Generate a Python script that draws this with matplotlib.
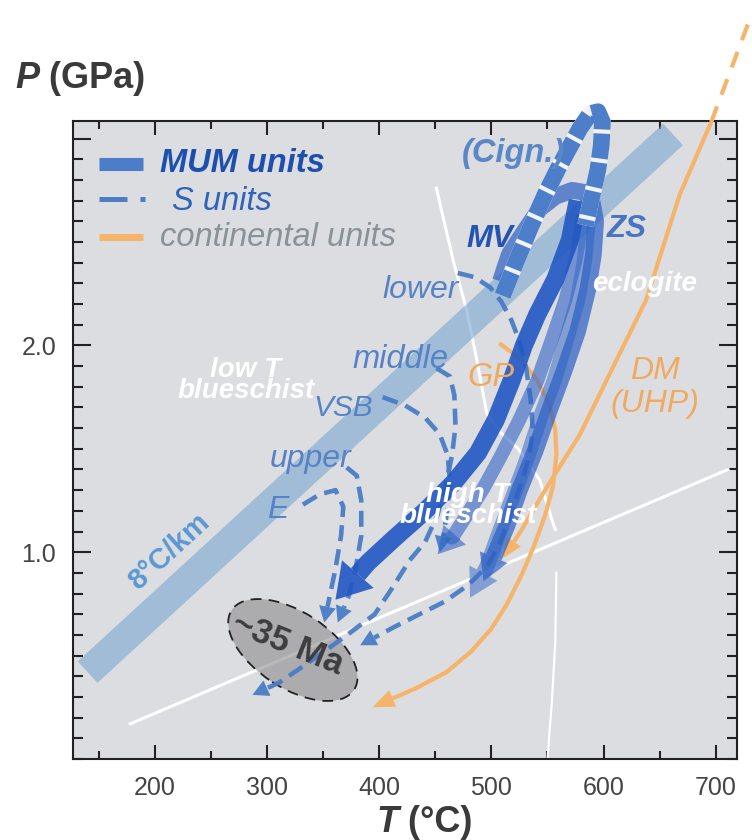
import numpy as np
import matplotlib
matplotlib.use("Agg")
import matplotlib.pyplot as plt
from matplotlib.patches import Polygon, Ellipse
from matplotlib import transforms
from matplotlib.ticker import MultipleLocator, FixedLocator, FixedFormatter

# ---- P-T paths (T in degC, P in GPa) ----
# MUM units (thick)
mum_main_T = [577, 570, 557, 541, 529, 518, 504, 488, 467, 441, 414, 390, 361]
mum_main_P = [2.70, 2.51, 2.32, 2.15, 2.00, 1.83, 1.64, 1.48, 1.34, 1.20, 1.07, 0.95, 0.77]
mum_b_T = [582, 575, 566, 554, 541, 525, 509, 493, 477, 465, 452]
mum_b_P = [2.63, 2.41, 2.22, 2.03, 1.83, 1.64, 1.47, 1.31, 1.17, 1.07, 0.99]
zs_T = [586, 583, 577, 567, 556, 543, 531, 518, 506, 496, 481]
zs_P = [2.58, 2.41, 2.22, 2.03, 1.83, 1.64, 1.44, 1.25, 1.08, 0.93, 0.78]
mv_T = [508, 516, 528, 543, 557, 572, 583, 590, 593, 591, 586, 577, 565, 552, 539, 525, 514, 504, 493]
mv_P = [2.31, 2.44, 2.54, 2.66, 2.72, 2.75, 2.74, 2.69, 2.60, 2.44, 2.27, 2.07, 1.88, 1.69, 1.49, 1.30, 1.13, 1.00, 0.86]
cign_T = [510, 521, 534, 548, 559, 570, 579, 588, 595, 599, 598, 595, 590, 584]
cign_P = [2.24, 2.39, 2.56, 2.73, 2.85, 2.96, 3.05, 3.12, 3.13, 3.08, 2.97, 2.85, 2.73, 2.58]

# S units (dashed)
s_lower_T = [470, 485, 499, 509, 518, 525, 531, 535, 537, 534, 527, 519, 508, 496, 479, 458, 436, 414, 383]
s_lower_P = [2.35, 2.33, 2.28, 2.21, 2.12, 2.02, 1.89, 1.74, 1.59, 1.47, 1.34, 1.21, 1.05, 0.93, 0.84, 0.76, 0.70, 0.64, 0.55]
s_middle_T = [451, 463, 467, 468, 465, 459, 452, 441, 427, 412, 396, 369, 338, 311, 287]
s_middle_P = [1.89, 1.85, 1.76, 1.61, 1.47, 1.32, 1.18, 1.05, 0.96, 0.83, 0.70, 0.59, 0.47, 0.37, 0.31]
s_vsb_T = [403, 423, 441, 454, 461, 463, 461, 458, 454]
s_vsb_P = [1.75, 1.71, 1.65, 1.57, 1.47, 1.35, 1.22, 1.10, 1.00]
s_upper_T = [371, 380, 384, 384, 379, 373, 363]
s_upper_P = [1.41, 1.37, 1.25, 1.08, 0.92, 0.79, 0.66]
s_e_T = [332, 347, 361, 368, 366, 361, 356, 351]
s_e_P = [1.23, 1.28, 1.30, 1.22, 1.08, 0.92, 0.79, 0.66]

# continental units (orange)
dm_T = [696, 668, 638, 608, 579, 549, 525, 510]
dm_P = [3.08, 2.73, 2.22, 1.89, 1.57, 1.31, 1.09, 0.97]
dm_ext_T = [696, 732]
dm_ext_P = [3.08, 3.60]
gp_T = [507, 525, 541, 552, 557, 558, 555, 548, 538, 527, 514, 500, 482, 460, 432, 394]
gp_P = [2.01, 1.94, 1.83, 1.71, 1.59, 1.47, 1.32, 1.18, 1.03, 0.89, 0.75, 0.63, 0.52, 0.42, 0.34, 0.25]

# reaction boundaries and geotherm
react_low_T = [178, 711]
react_low_P = [0.17, 1.40]
react_up_T = [451, 466, 478, 487, 496, 508, 524, 543, 555, 557]
react_up_P = [2.76, 2.41, 2.17, 1.93, 1.67, 1.58, 1.50, 1.35, 1.14, 1.11]
react_vert_T = [558, 557, 554, 550]
react_vert_P = [0.90, 0.57, 0.28, 0.0]
geo8_T = [140, 662]
geo8_P = [0.42, 3.02]

# ~35 Ma exhumation stage
age_T, age_P = 323, 0.527

xticks = [200, 300, 400, 500, 600, 700]
yticks = [1.0, 2.0, 3.0]
ylabels = ["1.0", "2.0", ""]

SBLUE = "#4a7cc6"
ORANGE = "#f5b46a"
FONT = ["Liberation Sans", "DejaVu Sans"]

fig = plt.figure(figsize=(7.52, 8.40), dpi=100)
ax = fig.add_axes([73 / 752, 1 - 759 / 840, 664 / 752, 638 / 840])
ax.set_facecolor("#dcdde0")
ax.set_xlim(127, 719)
ax.set_ylim(0, 3.085)


def draw_path(T, P, color, lw, alpha=1.0, head=None, dashes=None, z=5, clip=True):
    """Plot a path; optional arrow head (length, width in pixels) at its end."""
    pts = ax.transData.transform(np.column_stack([T, P]))
    if head is not None:
        hl, hw = head
        tip, prev = pts[-1], pts[-2]
        d = (tip - prev) / np.hypot(*(tip - prev))
        n = np.array([-d[1], d[0]])
        base = tip - d * hl
        tri = np.array([tip, base + n * hw / 2, base - n * hw / 2])
        ax.add_patch(Polygon(ax.transData.inverted().transform(tri), closed=True,
                             facecolor=color, edgecolor="none", alpha=alpha, zorder=z))
        pts = np.vstack([pts[:-1], base])
    xy = ax.transData.inverted().transform(pts)
    kw = dict(color=color, lw=lw, alpha=alpha, zorder=z, solid_joinstyle="round",
              solid_capstyle="butt", clip_on=clip)
    if dashes:
        kw.update(dashes=dashes, dash_capstyle="butt", dash_joinstyle="round")
    ax.plot(xy[:, 0], xy[:, 1], **kw)


# boundaries
ax.plot(react_low_T, react_low_P, color="white", lw=2.2, zorder=2)
ax.plot(react_up_T, react_up_P, color="white", lw=2.2, zorder=2)
ax.plot(react_vert_T, react_vert_P, color="white", lw=1.6, zorder=2)
ax.plot(geo8_T, geo8_P, color="#7aa6d2", alpha=0.6, lw=21, solid_capstyle="butt", zorder=3)

# continental units
draw_path(dm_T, dm_P, ORANGE, 3, head=(20, 17), z=4)
ax.plot(dm_ext_T, dm_ext_P, color=ORANGE, lw=3, dashes=(4, 3), clip_on=False, zorder=4)
draw_path(gp_T, gp_P, ORANGE, 3, head=(22, 18), z=4)

# ~35 Ma field
ell = Ellipse((0, 0), 146, 76, angle=-33, facecolor=(0.55, 0.55, 0.56, 0.6),
              edgecolor="#222222", lw=1.3, linestyle=(0, (6, 4)), zorder=5,
              transform=transforms.IdentityTransform()
              + transforms.ScaledTranslation(age_T, age_P, ax.transData))
ax.add_patch(ell)

# S units
for T, P in [(s_lower_T, s_lower_P), (s_middle_T, s_middle_P), (s_vsb_T, s_vsb_P),
             (s_upper_T, s_upper_P), (s_e_T, s_e_P)]:
    draw_path(T, P, SBLUE, 3.3, alpha=0.95, head=(16, 17), dashes=(3.5, 1.8), z=6)

# MUM units
draw_path(zs_T, zs_P, "#3a6cc8", 11, alpha=0.55, head=(28, 32), z=7)
draw_path(mum_b_T, mum_b_P, "#2f63c6", 10, alpha=0.6, head=(26, 30), z=7)
draw_path(mv_T, mv_P, "#2a5ec4", 12, alpha=0.7, head=(26, 30), z=7)
draw_path(mum_main_T, mum_main_P, "#2257c2", 13, alpha=0.9, head=(34, 42), z=7)
ax.plot(cign_T, cign_P, color="#f2f3f6", lw=12, solid_joinstyle="round",
        solid_capstyle="butt", clip_on=False, zorder=8)
ax.plot(cign_T, cign_P, color="#4c7ec9", lw=12, dashes=(1.5, 0.25), dash_capstyle="butt",
        dash_joinstyle="round", clip_on=False, zorder=8)


# labels on the diagram
def label(T, P, s, color, size, weight="normal", style="italic", **kw):
    ax.text(T, P, s, color=color, fontsize=size, fontweight=weight, fontstyle=style,
            family=FONT, zorder=10, **kw)


label(474, 2.888, "(Cign.)", "#5b87c9", 23.5, "bold")
label(478, 2.476, "MV", "#2354b2", 22.5, "bold")
label(603, 2.524, "ZS", "#4676c2", 22.5, "bold")
label(590, 2.262, "eclogite", "white", 20, "bold")
label(403, 2.228, "lower", "#5682c6", 23)
label(376, 1.893, "middle", "#5682c6", 23.5)
label(341, 1.660, "VSB", "#5682c6", 21.5)
label(302, 1.413, "upper", "#5682c6", 23)
label(300, 1.165, "E", "#5682c6", 23)
label(479, 1.806, "GP", "#f0aa60", 23.5)
label(646, 1.680, "DM\n(UHP)", "#f0aa60", 23, ha="center", linespacing=1.1)
label(281, 1.748, "low T\nblueschist", "white", 20, "bold", ha="center", linespacing=0.75)
label(479, 1.141, "high T\nblueschist", "white", 20, "bold", ha="center", linespacing=0.75)
label(213, 1.0, "8°C/km", "#5a98d4", 21, "bold", "normal", ha="center", va="center",
      rotation=42.5, rotation_mode="anchor")
label(318, 0.554, "~35 Ma", "#3d3d3f", 25, "bold", "normal", ha="center", va="center",
      rotation=-22, rotation_mode="anchor")

# legend
tA = ax.transAxes
ax.plot([0.039, 0.105], [0.9326, 0.9326], color="#4b7dc8", lw=9.4, solid_capstyle="butt",
        transform=tA, zorder=9)
ax.plot([0.039, 0.081], [0.8777, 0.8777], color="#4b7dc8", lw=3.6, solid_capstyle="butt",
        transform=tA, zorder=9)
ax.plot([0.101, 0.108], [0.8777, 0.8777], color="#4b7dc8", lw=3.6, solid_capstyle="butt",
        transform=tA, zorder=9)
ax.plot([0.039, 0.105], [0.8182, 0.8182], color=ORANGE, lw=5, solid_capstyle="butt",
        transform=tA, zorder=9)
ax.text(0.131, 0.920, "MUM units", transform=tA, color="#1d4fae", fontsize=23.5,
        fontweight="bold", fontstyle="italic", family=FONT, zorder=10)
ax.text(0.149, 0.8605, "S units", transform=tA, color="#2f62bb", fontsize=23.5,
        fontstyle="italic", family=FONT, zorder=10)
ax.text(0.131, 0.804, "continental units", transform=tA, color="#8a9299", fontsize=23.5,
        fontstyle="italic", family=FONT, zorder=10)

# axes styling
for sp in ax.spines.values():
    sp.set_linewidth(1.5)
    sp.set_color("#222222")
ax.xaxis.set_major_locator(FixedLocator(xticks))
ax.xaxis.set_minor_locator(MultipleLocator(50))
ax.yaxis.set_major_locator(FixedLocator(yticks))
ax.yaxis.set_major_formatter(FixedFormatter(ylabels))
ax.yaxis.set_minor_locator(MultipleLocator(0.1))
ax.tick_params(which="both", direction="in", top=True, right=True, width=1.5,
               color="#222222", labelcolor="#444444", labelsize=18)
ax.tick_params(axis="x", which="major", length=10, pad=12)
ax.tick_params(axis="x", which="minor", length=5.5)
ax.tick_params(axis="y", which="major", length=13, pad=12)
ax.tick_params(axis="y", which="minor", length=7)
for t in ax.get_xticklabels() + ax.get_yticklabels():
    t.set_family(FONT)

# axis titles: italic symbol followed by the unit
p = fig.text(15 / 752, 1 - 88 / 840, "P", fontsize=26, fontweight="bold", fontstyle="italic",
             family=FONT, color="#3a3a3a", va="baseline")
ax.annotate(" (GPa)", xy=(1, 0), xycoords=p, va="bottom", ha="left", fontsize=26,
            fontweight="bold", family=FONT, color="#3a3a3a", annotation_clip=False)
t = fig.text(376 / 752, 1 - 832 / 840, "T", fontsize=26, fontweight="bold", fontstyle="italic",
             family=FONT, color="#3a3a3a", va="baseline")
ax.annotate(" (°C)", xy=(1, 0), xycoords=t, va="bottom", ha="left", fontsize=26,
            fontweight="bold", family=FONT, color="#3a3a3a", annotation_clip=False)

fig.savefig("out.png", dpi=100)
